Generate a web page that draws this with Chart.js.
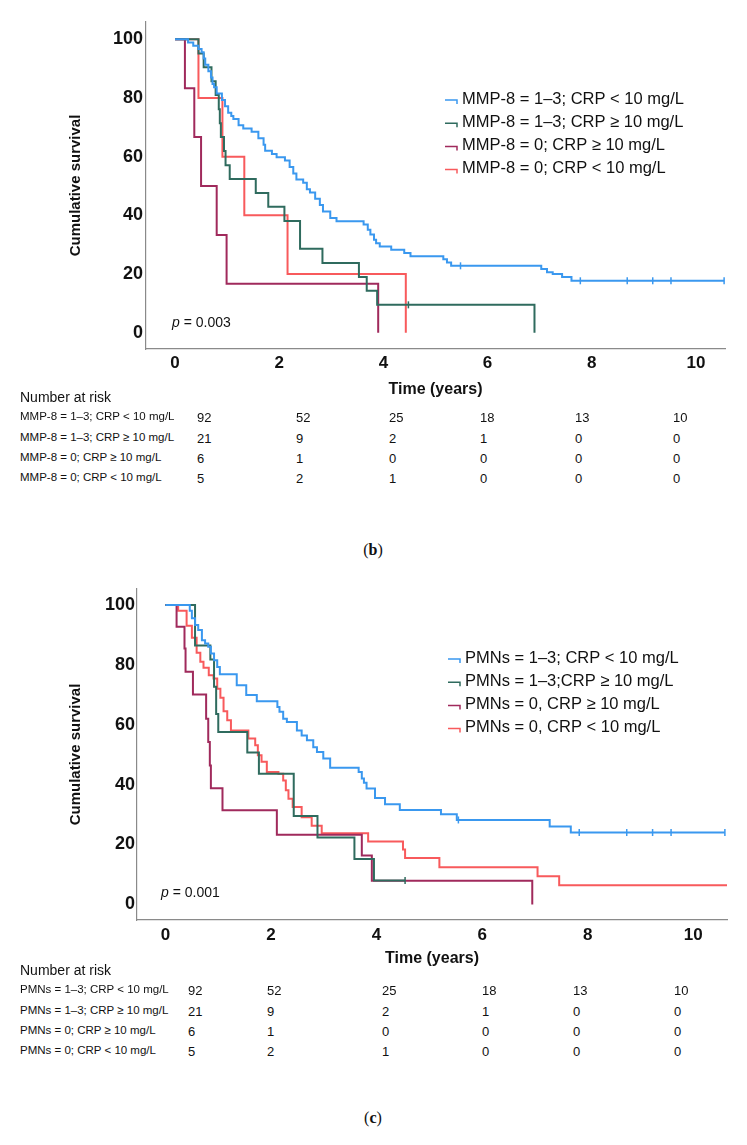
<!DOCTYPE html>
<html>
<head>
<meta charset="utf-8">
<script src="https://cdn.jsdelivr.net/npm/chart.js@4.4.0/dist/chart.umd.min.js"></script>
<style>
  body { margin: 0; background: #fff; }
  #page { position: relative; width: 747px; height: 1145px; overflow: hidden;
          font-family: "Liberation Sans", Arial, sans-serif; color: #111; }
  canvas { position: absolute; left: 0; }
  .t { position: absolute; white-space: nowrap; line-height: 1; transform: translateY(-50%); }
</style>
</head>
<body>
<div id="page">
  <canvas id="chartB" width="747" height="400" style="top:0"></canvas>
  <canvas id="chartC" width="747" height="415" style="top:560px"></canvas>
</div>
<script>
// axis ticks
const xTicks = [0, 2, 4, 6, 8, 10];
const yTicks = [0, 20, 40, 60, 80, 100];
const colors = ['#3a98ef', '#2f6b5e', '#a02a5c', '#f85a5c'];

// (b) MMP-8 groups
const labelsB = ['MMP-8 = 1–3; CRP < 10 mg/L', 'MMP-8 = 1–3; CRP ≥ 10 mg/L', 'MMP-8 = 0; CRP ≥ 10 mg/L', 'MMP-8 = 0; CRP < 10 mg/L'];
const timeB1 = [0, 0.25, 0.35, 0.45, 0.51, 0.55, 0.58, 0.64, 0.69, 0.72, 0.75, 0.80, 0.90, 0.96, 1.02, 1.08, 1.12, 1.22, 1.31, 1.47, 1.60, 1.70, 1.73, 1.86, 1.95, 2.11, 2.20, 2.27, 2.33, 2.46, 2.53, 2.59, 2.69, 2.78, 2.84, 2.98, 3.10, 3.62, 3.70, 3.75, 3.82, 3.86, 3.93, 4.15, 4.40, 4.52, 5.15, 5.22, 5.30, 7.03, 7.14, 7.25, 7.43, 7.61];
const survB1 = [100, 98.9, 97.8, 96.7, 95.6, 93.5, 91.3, 89.1, 87.0, 84.8, 83.7, 81.5, 79.3, 77.2, 75.0, 73.9, 72.8, 70.7, 69.6, 68.5, 66.3, 64.1, 62.0, 60.9, 59.8, 58.7, 56.5, 54.3, 52.2, 51.1, 48.9, 47.8, 45.7, 43.5, 41.3, 39.1, 38.0, 36.9, 35.1, 33.5, 31.7, 30.5, 29.4, 28.3, 27.2, 26.1, 25.0, 23.9, 22.8, 21.7, 20.6, 20.0, 19.0, 17.7];
const censB1 = [5.48, 7.78, 8.68, 9.17, 9.52, 10.54];
const timeB2 = [0, 0.45, 0.55, 0.70, 0.78, 0.84, 0.86, 0.88, 0.94, 0.97, 1.05, 1.55, 1.79, 2.10, 2.40, 2.83, 3.53, 3.68, 3.88, 6.90];
const survB2 = [100, 95.2, 90.5, 85.7, 81.0, 76.2, 71.4, 66.7, 61.9, 57.1, 52.4, 47.6, 42.9, 38.1, 28.6, 23.8, 19.0, 14.3, 9.5, 0];
const censB2 = [4.48];
const timeB3 = [0, 0.19, 0.37, 0.50, 0.80, 0.99, 3.90];
const survB3 = [100, 83.3, 66.7, 50.0, 33.3, 16.7, 0];
const censB3 = [];
const timeB4 = [0, 0.45, 0.91, 1.33, 2.16, 4.43];
const survB4 = [100, 80, 60, 40, 20, 0];
const censB4 = [];

// (c) PMN groups
const labelsC = ['PMNs = 1–3; CRP < 10 mg/L', 'PMNs = 1–3;CRP ≥ 10 mg/L', 'PMNs = 0, CRP ≥ 10 mg/L', 'PMNs = 0, CRP < 10 mg/L'];
const timeC1 = [0, 0.46, 0.50, 0.56, 0.62, 0.69, 0.75, 0.81, 0.86, 0.92, 0.98, 1.03, 1.35, 1.53, 1.73, 2.12, 2.16, 2.23, 2.30, 2.49, 2.58, 2.68, 2.80, 2.87, 2.99, 3.12, 3.66, 3.72, 3.76, 3.81, 3.97, 4.16, 4.44, 5.22, 5.52, 7.28, 7.68];
const survC1 = [100, 98.0, 95.5, 93.3, 91.6, 88.2, 87.1, 86.0, 83.8, 81.5, 79.3, 76.8, 73.2, 69.9, 67.8, 65.9, 64.3, 62.0, 60.9, 58.1, 56.4, 54.8, 52.5, 50.9, 48.7, 45.6, 44.2, 42.0, 40.6, 38.7, 35.5, 33.4, 31.5, 30.1, 28.2, 26.0, 24.0];
const censC1 = [5.55, 7.84, 8.74, 9.23, 9.58, 10.6];
const timeC2 = [0, 0.56, 0.85, 0.92, 0.96, 1.00, 1.55, 1.77, 2.43, 2.88, 3.58, 3.95];
const survC2 = [100, 86.4, 81.8, 72.7, 63.6, 57.6, 50.7, 43.6, 29.5, 22.3, 15.2, 8.0];
const censC2 = [4.54];
const timeC3 = [0, 0.21, 0.36, 0.38, 0.52, 0.77, 0.81, 0.84, 0.86, 1.08, 2.11, 3.72, 3.91, 6.95];
const survC3 = [100, 92.7, 85.4, 77.7, 70.1, 62.0, 54.2, 46.4, 38.8, 31.4, 23.3, 16.3, 7.9, 0];
const censC3 = [];
const timeC4 = [0, 0.24, 0.40, 0.50, 0.59, 0.66, 0.72, 0.82, 0.91, 0.98, 1.04, 1.10, 1.17, 1.24, 1.57, 1.70, 1.75, 1.82, 1.92, 2.14, 2.23, 2.28, 2.33, 2.41, 2.58, 2.77, 2.96, 3.84, 4.50, 4.54, 5.19, 7.05, 7.46, 10.64];
const survC4 = [100, 98.0, 93.0, 89.0, 84.0, 81.0, 79.0, 76.5, 75.4, 72.0, 69.0, 64.5, 61.5, 58.1, 55.4, 53.1, 49.8, 47.6, 44.2, 43.6, 41.4, 38.1, 35.3, 32.5, 29.1, 26.3, 23.8, 21.0, 18.3, 15.5, 12.4, 9.4, 6.4, 6.4];
const censC4 = [];

// number at risk (same in both panels)
const riskLabelsB = labelsB;
const riskLabelsC = ['PMNs = 1–3; CRP < 10 mg/L', 'PMNs = 1–3; CRP ≥ 10 mg/L', 'PMNs = 0; CRP ≥ 10 mg/L', 'PMNs = 0; CRP < 10 mg/L'];
const risk1 = [92, 52, 25, 18, 13, 10];
const risk2 = [21, 9, 2, 1, 0, 0];
const risk3 = [6, 1, 0, 0, 0, 0];
const risk4 = [5, 2, 1, 0, 0, 0];

// km step points, censored points get a tick mark
function kmPoints(times, surv, cens) {
  const pts = times.map((t, i) => ({ x: t, y: surv[i], c: false }));
  cens.forEach(t => {
    let s = surv[0];
    times.forEach((tt, i) => { if (tt <= t) s = surv[i]; });
    pts.push({ x: t, y: s, c: true });
  });
  return pts.sort((a, b) => a.x - b.x);
}

function dataset(label, color, pts) {
  return {
    label: label,
    data: pts,
    borderColor: color,
    borderWidth: 2,
    stepped: true,
    fill: false,
    pointStyle: 'line',
    pointRotation: 90,
    pointRadius: ctx => (ctx.raw && ctx.raw.c) ? 3.5 : 0,
    pointBorderColor: color,
    pointBorderWidth: 1.5,
    pointHoverRadius: 0
  };
}

const kmLegend = {
  id: 'kmLegend',
  afterDraw(chart, args, opts) {
    const ctx = chart.ctx;
    ctx.save();
    ctx.font = '16.5px "Liberation Sans", Arial, sans-serif';
    ctx.textBaseline = 'middle';
    chart.data.datasets.forEach((ds, i) => {
      const y = opts.y + i * opts.gap;
      ctx.strokeStyle = ds.borderColor;
      ctx.lineWidth = 1.5;
      ctx.beginPath();
      ctx.moveTo(opts.x, y + 1);
      ctx.lineTo(opts.x + 12, y + 1);
      ctx.lineTo(opts.x + 12, y + 5);
      ctx.stroke();
      ctx.fillStyle = '#111';
      ctx.fillText(ds.label, opts.x + 17, y);
    });
    ctx.restore();
  }
};

function makeChart(id, sets, o) {
  return new Chart(document.getElementById(id), {
    type: 'line',
    data: { datasets: sets },
    plugins: [kmLegend],
    options: {
      responsive: false,
      animation: false,
      events: [],
      layout: { padding: { top: o.top, right: o.right, left: 0, bottom: 0 } },
      plugins: {
        legend: { display: false },
        tooltip: { enabled: false },
        kmLegend: { x: o.legX, y: o.legY, gap: 23.2 }
      },
      scales: {
        x: {
          type: 'linear',
          min: o.xMin, max: o.xMax,
          afterBuildTicks: s => { s.ticks = xTicks.map(v => ({ value: v })); },
          afterFit: s => { s.height = o.xHeight; },
          grid: { display: true, drawOnChartArea: false, drawTicks: false },
          border: { display: true, color: '#8a8a8a', width: 1.2 },
          ticks: { color: '#111', padding: o.xPad, font: { family: 'Liberation Sans', weight: 'bold', size: 17 } },
          title: { display: true, text: 'Time (years)', color: '#111', padding: { top: 0, bottom: o.titleBottom },
                   font: { family: 'Liberation Sans', weight: 'bold', size: 16 } }
        },
        y: {
          min: o.yMin, max: o.yMax,
          afterBuildTicks: s => { s.ticks = yTicks.map(v => ({ value: v })); },
          afterFit: s => { s.width = o.yWidth; },
          grid: { display: true, drawOnChartArea: false, drawTicks: false },
          border: { display: true, color: '#8a8a8a', width: 1.2 },
          ticks: { color: '#111', padding: o.yPad, font: { family: 'Liberation Sans', weight: 'bold', size: 18 } },
          title: { display: true, text: 'Cumulative survival', color: '#111', padding: { top: o.yTitleLeft, bottom: 0 },
                   font: { family: 'Liberation Sans', weight: 'bold', size: 15 } }
        }
      }
    }
  });
}

makeChart('chartB', [
  dataset(labelsB[0], colors[0], kmPoints(timeB1, survB1, censB1)),
  dataset(labelsB[1], colors[1], kmPoints(timeB2, survB2, censB2)),
  dataset(labelsB[2], colors[2], kmPoints(timeB3, survB3, censB3)),
  dataset(labelsB[3], colors[3], kmPoints(timeB4, survB4, censB4))
], { top: 22, right: 22, xMin: -0.557, xMax: 10.557, yMin: -5.55, yMax: 105.9, xHeight: 51, yWidth: 146,
     xPad: 4, yPad: 3, titleBottom: 0.4, yTitleLeft: 67, legX: 445, legY: 99 });

makeChart('chartC', [
  dataset(labelsC[0], colors[0], kmPoints(timeC1, survC1, censC1)),
  dataset(labelsC[1], colors[1], kmPoints(timeC2, survC2, censC2)),
  dataset(labelsC[2], colors[2], kmPoints(timeC3, survC3, censC3)),
  dataset(labelsC[3], colors[3], kmPoints(timeC4, survC4, censC4))
], { top: 29, right: 20, xMin: -0.54, xMax: 10.64, yMin: -5.2, yMax: 105.3, xHeight: 55, yWidth: 137,
     xPad: 5, yPad: 2, titleBottom: 6.4, yTitleLeft: 67, legX: 448, legY: 98 });

// text outside the plots
const page = document.getElementById('page');
function addText(x, y, html, css) {
  const d = document.createElement('div');
  d.className = 't';
  d.style.left = x + 'px';
  d.style.top = y + 'px';
  if (css) d.style.cssText += css;
  d.innerHTML = html;
  page.appendChild(d);
}

function riskTable(top, labels, colX) {
  addText(20, top, 'Number at risk', 'font-size:14px');
  [risk1, risk2, risk3, risk4].forEach((row, r) => {
    const y = top + 20.3 * (r + 1);
    addText(20, y, labels[r], 'font-size:11.5px');
    row.forEach((v, c) => addText(colX[c], y, String(v), 'font-size:13px'));
  });
}

riskTable(397, riskLabelsB, [197, 296, 389, 480, 575, 673]);
riskTable(970, riskLabelsC, [188, 267, 382, 482, 573, 674]);

addText(172, 322, '<i>p</i> = 0.003', 'font-size:14px');
addText(161, 892, '<i>p</i> = 0.001', 'font-size:14px');
addText(373, 550, '(<b>b</b>)', 'font-size:16px;font-family:"Liberation Serif",serif;transform:translate(-50%,-50%)');
addText(373, 1118, '(<b>c</b>)', 'font-size:16px;font-family:"Liberation Serif",serif;transform:translate(-50%,-50%)');
</script>
</body>
</html>
